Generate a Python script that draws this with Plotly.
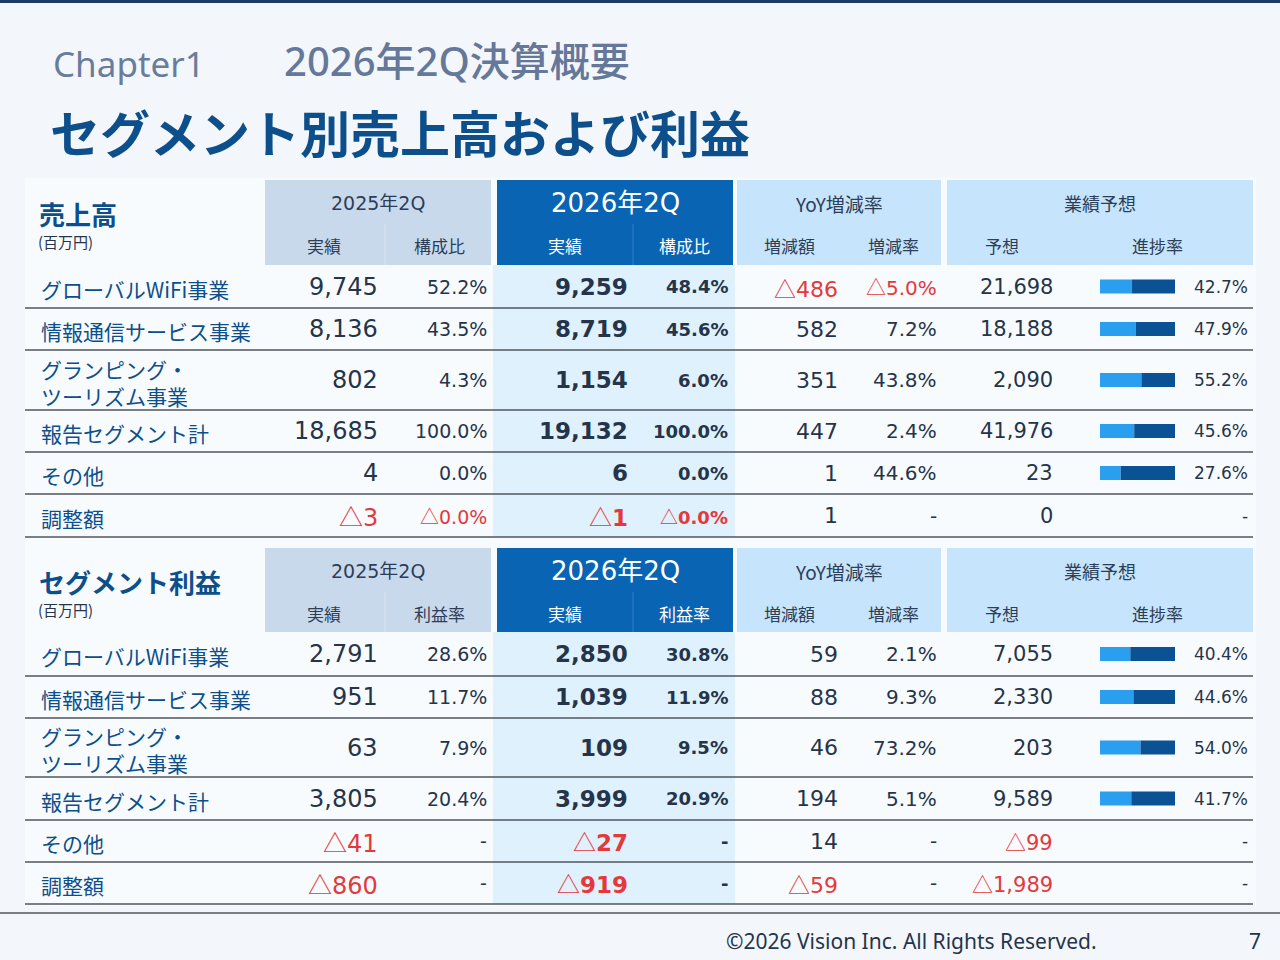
import math
import plotly.graph_objects as go

# ---------------- data ----------------
group_headers = ["2025年2Q", "2026年2Q", "YoY増減率", "業績予想"]
sales_sub_headers = ["実績", "構成比", "実績", "構成比", "増減額", "増減率", "予想", "進捗率"]
profit_sub_headers = ["実績", "利益率", "実績", "利益率", "増減額", "増減率", "予想", "進捗率"]

segments = ["グローバルWiFi事業", "情報通信サービス事業", "グランピング・<br>ツーリズム事業",
            "報告セグメント計", "その他", "調整額"]

sales_2025 = [9745, 8136, 802, 18685, 4, -3]
sales_2025_ratio = [52.2, 43.5, 4.3, 100.0, 0.0, -0.0]
sales_2026 = [9259, 8719, 1154, 19132, 6, -1]
sales_2026_ratio = [48.4, 45.6, 6.0, 100.0, 0.0, -0.0]
sales_yoy_diff = [-486, 582, 351, 447, 1, 1]
sales_yoy_rate = [-5.0, 7.2, 43.8, 2.4, 44.6, None]
sales_forecast = [21698, 18188, 2090, 41976, 23, 0]
sales_progress = [42.7, 47.9, 55.2, 45.6, 27.6, None]

profit_2025 = [2791, 951, 63, 3805, -41, -860]
profit_2025_margin = [28.6, 11.7, 7.9, 20.4, None, None]
profit_2026 = [2850, 1039, 109, 3999, -27, -919]
profit_2026_margin = [30.8, 11.9, 9.5, 20.9, None, None]
profit_yoy_diff = [59, 88, 46, 194, 14, -59]
profit_yoy_rate = [2.1, 9.3, 73.2, 5.1, None, None]
profit_forecast = [7055, 2330, 203, 9589, -99, -1989]
profit_progress = [40.4, 44.6, 54.0, 41.7, None, None]

# ---------------- style ----------------
W, H = 1280, 960
PAGE_BG = "#f3f7fc"
TABLE_BG = "#f8fbfe"
NAVY = "#0d4f8b"
DARK = "#26344a"
RED = "#e3393c"
LINE = "#50555c"
JP = "Noto Sans CJK JP"
NUM = "DejaVu Sans, Noto Sans CJK JP"
LAT = "Noto Sans, Noto Sans CJK JP"
TRI = "<span style=\"font-family:'Noto Sans CJK JP';font-weight:400\">△</span>"

fig = go.Figure()
shapes = []
annos = []


def rect(x0, y0, x1, y1, color):
    shapes.append(dict(type="rect", xref="x", yref="y", x0=x0, y0=y0, x1=x1, y1=y1,
                       fillcolor=color, line=dict(width=0), layer="below"))


def hline(x0, x1, y, color=LINE, width=1.6):
    shapes.append(dict(type="line", xref="x", yref="y", x0=x0, x1=x1, y0=y, y1=y,
                       line=dict(color=color, width=width), layer="above"))


def vline(x, y0, y1, color, width=1):
    shapes.append(dict(type="line", xref="x", yref="y", x0=x, x1=x, y0=y0, y1=y1,
                       line=dict(color=color, width=width), layer="above"))


def text(x, y, s, size, color, family=JP, weight="normal", anchor="left"):
    annos.append(dict(x=x, y=y, xref="x", yref="y", text=s, showarrow=False,
                      xanchor=anchor, yanchor="middle",
                      font=dict(family=family, size=size, color=color, weight=weight)))


def is_neg(v):
    return v is not None and math.copysign(1, v) < 0


def fmt_int(v):
    if v is None:
        return "-"
    return (TRI if v < 0 else "") + "{:,}".format(abs(v))


def fmt_pct(v):
    if v is None:
        return "-"
    return (TRI if is_neg(v) else "") + "{:.1f}%".format(abs(v))


# page background and top rule
rect(0, 0, W, H, PAGE_BG)
rect(0, 0, W, 3, "#1d3b66")
rect(25, 178, 1256, 906, TABLE_BG)

# titles
text(51, 63, "Chapter1", 35, "#6b7c9a", family=LAT)
text(282, 60, "2026年2Q決算概要", 40, "#66789a", family=LAT, weight=500)
text(48, 131, "セグメント別売上高および利益", 50, NAVY, weight=700)

# column geometry
groups_x = [(265, 491), (497, 733), (737, 941), (947, 1253)]
group_fill = ["#c9d9ec", "#0a64b4", "#c6e4fb", "#c6e4fb"]
group_txt = ["#2c3e58", "#ffffff", "#2c3e58", "#2c3e58"]
group_size = [19, 26, 19, 18]
sub_centers = [324, 439, 565, 684, 789, 893, 1002, 1157]
sub_dividers = [(385, "#d6e2f0"), (633, "#2f7cc6")]
# value columns: right edge x, font size, weight
val_cols = [(380, 24, "normal"), (489, 19, "normal"), (630, 23, 700), (730, 18, 700),
            (840, 22, "normal"), (939, 20, "normal"), (1055, 21, "normal")]
PROG_RIGHT = 1250
BAR_X0, BAR_X1 = 1100, 1175


def draw_table(top, bottom, bounds, title, sub_headers, cols, progress, bar_y_list):
    # header blocks
    for (x0, x1), fc in zip(groups_x, group_fill):
        rect(x0, top, x1, bottom, fc)
    for x, c in sub_dividers:
        vline(x, top + 44, bottom, c)
    # 2026 column light background
    rect(493, bottom, 735, bounds[-1], "#dff1fd")
    for i, (g, (x0, x1)) in enumerate(zip(group_headers, groups_x)):
        fam = NUM if i < 2 else JP
        text((x0 + x1) / 2, top + 23, g, group_size[i], group_txt[i],
             family=fam, anchor="center")
    for j, s in enumerate(sub_headers):
        c = "#ffffff" if j in (2, 3) else "#2c3e58"
        text(sub_centers[j], top + 65, s, 17, c, anchor="center")
    # section title
    text(37, top + 33, title, 26, NAVY, weight=700)
    text(36, top + 61, "(百万円)", 15, DARK)
    # rows
    for r in range(len(segments)):
        y = (bounds[r] + bounds[r + 1]) / 2
        text(39, y + 2, segments[r], 21, NAVY)
        for (xr, fs, wt), arr, kind in cols:
            v = arr[r]
            s = fmt_int(v) if kind == "i" else fmt_pct(v)
            col = RED if is_neg(v) else DARK
            text(xr, y, s, fs, col, family=NUM, weight=wt, anchor="right")
        p = progress[r]
        text(PROG_RIGHT, y, fmt_pct(p), 17, DARK, family=NUM, anchor="right")
        hline(25, 1253, bounds[r + 1])
        if p is not None:
            bar_y_list.append((y, p))


sales_cols = list(zip(val_cols, [sales_2025, sales_2025_ratio, sales_2026, sales_2026_ratio,
                                 sales_yoy_diff, sales_yoy_rate, sales_forecast],
                      ["i", "p", "i", "p", "i", "p", "i"]))
profit_cols = list(zip(val_cols, [profit_2025, profit_2025_margin, profit_2026, profit_2026_margin,
                                  profit_yoy_diff, profit_yoy_rate, profit_forecast],
                       ["i", "p", "i", "p", "i", "p", "i"]))

bars = []
draw_table(180, 265, [265, 308, 350, 410, 452, 494, 537], "売上高", sales_sub_headers,
           sales_cols, sales_progress, bars)
draw_table(548, 632, [632, 676, 718, 777, 820, 862, 904], "セグメント利益", profit_sub_headers,
           profit_cols, profit_progress, bars)

# progress bars (x axis 2 maps 0..100 % onto the bar slot)
bar_y = [b[0] for b in bars]
bar_p = [b[1] for b in bars]
fig.add_trace(go.Bar(orientation="h", y=bar_y, x=bar_p, base=[0] * len(bar_p), width=14,
                     marker=dict(color="#2a9ff0", line=dict(width=0)), xaxis="x2", yaxis="y",
                     hoverinfo="skip", showlegend=False))
fig.add_trace(go.Bar(orientation="h", y=bar_y, x=[100 - p for p in bar_p], base=bar_p, width=14,
                     marker=dict(color="#0a5294", line=dict(width=0)), xaxis="x2", yaxis="y",
                     hoverinfo="skip", showlegend=False))

# footer
hline(0, W, 913, LINE, 1.6)
text(1099, 941, "©2026 Vision Inc. All Rights Reserved.", 21, DARK, family=LAT, anchor="right")
text(1263, 941, "7", 21, DARK, family=LAT, anchor="right")

fig.update_layout(
    width=W, height=H, margin=dict(l=0, r=0, t=0, b=0),
    paper_bgcolor=PAGE_BG, plot_bgcolor="rgba(0,0,0,0)",
    barmode="overlay",
    xaxis=dict(range=[0, W], visible=False, fixedrange=True, domain=[0, 1]),
    xaxis2=dict(range=[0, 100], visible=False, fixedrange=True,
                domain=[BAR_X0 / W, BAR_X1 / W], anchor="y"),
    yaxis=dict(range=[H, 0], visible=False, fixedrange=True, domain=[0, 1]),
    shapes=shapes, annotations=annos, showlegend=False,
)

fig.write_html("out.html", config={"displayModeBar": False},
               post_script="document.body.style.margin='0';document.body.style.overflow='hidden';")
